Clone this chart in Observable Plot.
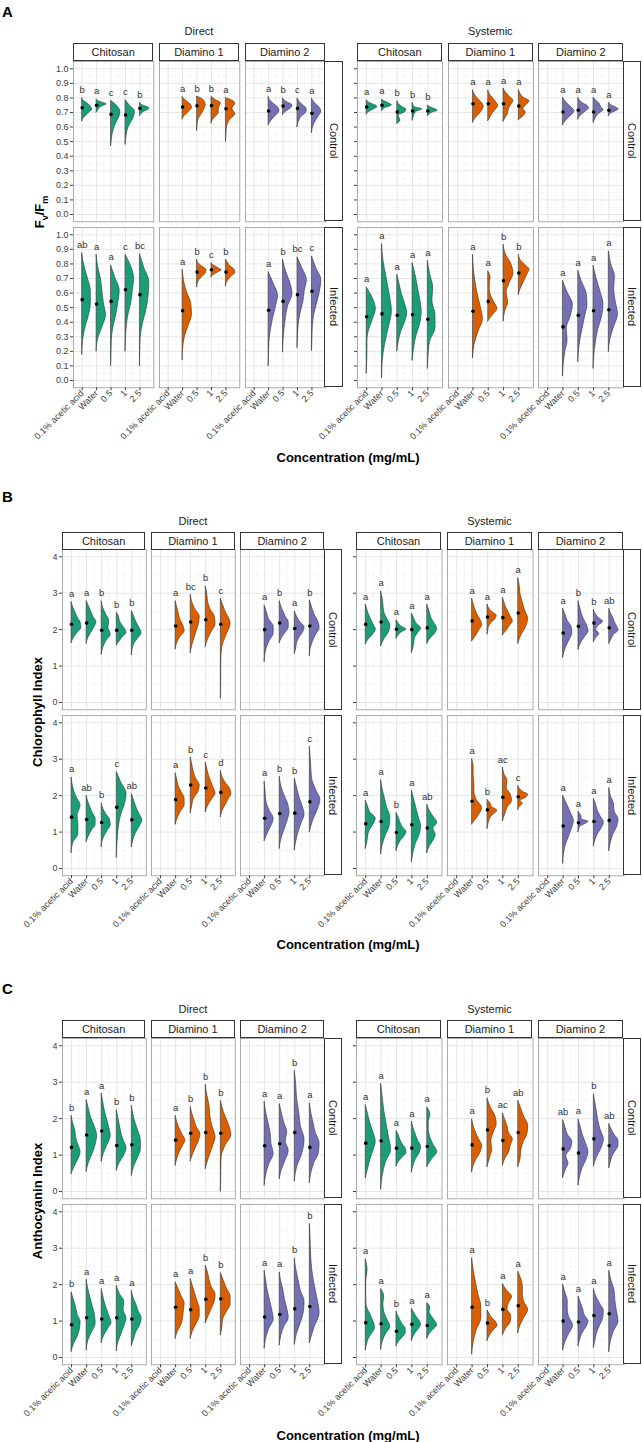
<!DOCTYPE html>
<html><head><meta charset="utf-8">
<script src="https://cdn.jsdelivr.net/npm/d3@7"></script>
<script src="https://cdn.jsdelivr.net/npm/@observablehq/plot@0.6"></script>
<style>
body{margin:0;background:#fff;}
#root{position:relative;width:642px;height:1442px;overflow:hidden;background:#fff;font-family:'Liberation Sans',Arial,Helvetica,sans-serif;color:#1a1a1a}
.strip{position:absolute;box-sizing:border-box;border:1px solid #333;background:#fff;font-size:11px;display:flex;align-items:center;justify-content:center;white-space:nowrap}
.vstrip{writing-mode:vertical-rl}
.lbl{position:absolute;white-space:nowrap}
</style></head>
<body><div id="root"></div>
<script>
const AA = "0.1% acetic acid";
const categories = [AA, "Water", "0.5", "1", "2.5"];
const treatments = ["Chitosan", "Diamino 1", "Diamino 2"];
const conditions = ["Control", "Infected"];
const applications = ["Direct", "Systemic"];
const palette = ["#1b9e77", "#d95f02", "#7570b3"];
const fvfmTicks = [0, 0.1, 0.2, 0.3, 0.4, 0.5, 0.6, 0.7, 0.8, 0.9, 1.0];
const indexTicks = [0, 1, 2, 3, 4];
const xTitle = "Concentration (mg/mL)";

// [treatment, concentration, min, max, mean, letter, violin half-widths bottom->top (tenths of a category step)]
const fvfmDirectControl = [
 ["Chitosan", AA, 0.64, 0.80, 0.733, "b", [1,3,5,7,6,4,1]],
 ["Chitosan", "Water", 0.70, 0.79, 0.75, "a", [1,1.5,2.5,4.5,7,4,1]],
 ["Chitosan", "0.5", 0.47, 0.78, 0.687, "c", [0.5,1,2,3.5,5.5,6.5,4.5]],
 ["Chitosan", "1", 0.48, 0.785, 0.683, "c", [0.5,1,2,4,6,6.5,3]],
 ["Chitosan", "2.5", 0.676, 0.767, 0.728, "b", [1,2,4,6.5,6,3,1]],
 ["Diamino 1", "Water", 0.653, 0.808, 0.737, "a", [1,3,5,6.5,6,4,1.5]],
 ["Diamino 1", "0.5", 0.575, 0.81, 0.746, "b", [0.3,0.5,1.5,3.5,5,6,5]],
 ["Diamino 1", "1", 0.626, 0.808, 0.747, "b", [1,3,5,5,5.5,6.5,3]],
 ["Diamino 1", "2.5", 0.50, 0.80, 0.726, "a", [0.3,0.5,1,3,6.5,4.5,6.5]],
 ["Diamino 2", "Water", 0.614, 0.808, 0.71, "a", [1.5,3.5,6,7.5,6.5,3.5,1]],
 ["Diamino 2", "0.5", 0.683, 0.797, 0.744, "b", [1,3,5,6.5,6,3,1]],
 ["Diamino 2", "1", 0.60, 0.797, 0.728, "c", [0.5,1.5,3,6,6.5,4,1.5]],
 ["Diamino 2", "2.5", 0.56, 0.795, 0.694, "a", [0.5,1.5,3,5,6.5,5,2]]
];
const fvfmDirectInfected = [
 ["Chitosan", AA, 0.178, 0.874, 0.555, "ab", [0.5,2,4.5,6,6,4,1.5]],
 ["Chitosan", "Water", 0.20, 0.863, 0.525, "a", [1,4,6.5,5,4,3,1]],
 ["Chitosan", "0.5", 0.10, 0.79, 0.543, "a", [0.3,0.5,1.5,3.5,5,6,3]],
 ["Chitosan", "1", 0.20, 0.863, 0.623, "c", [0.3,0.8,2,4,5,6,4]],
 ["Chitosan", "2.5", 0.10, 0.868, 0.589, "bc", [0.2,0.5,2,4.5,6,6.5,3]],
 ["Diamino 1", "Water", 0.14, 0.76, 0.479, "a", [0.3,1.5,4,6.5,6,3,1]],
 ["Diamino 1", "0.5", 0.64, 0.829, 0.744, "b", [0.5,1.5,3.5,6,6.5,3.5,1]],
 ["Diamino 1", "1", 0.708, 0.806, 0.76, "c", [1,3,5,7,5,3,1]],
 ["Diamino 1", "2.5", 0.646, 0.829, 0.744, "b", [0.5,2,4,6.5,6,3,1.5]],
 ["Diamino 2", "Water", 0.10, 0.744, 0.482, "a", [0.3,0.5,1.5,3,5,6.5,3.5]],
 ["Diamino 2", "0.5", 0.194, 0.829, 0.543, "b", [0.3,1,2,3.5,6.5,5,2]],
 ["Diamino 2", "1", 0.224, 0.845, 0.589, "bc", [0.3,0.8,2,4,5,6.5,3.5]],
 ["Diamino 2", "2.5", 0.205, 0.852, 0.612, "c", [0.3,0.6,1.5,3.5,5.5,6.5,3]]
];
const fvfmSystemicControl = [
 ["Chitosan", AA, 0.687, 0.785, 0.737, "a", [1,3,5,7,6,3,1]],
 ["Chitosan", "Water", 0.71, 0.79, 0.749, "a", [1,2,5,6.5,5,3,1]],
 ["Chitosan", "0.5", 0.623, 0.778, 0.703, "b", [2,1.5,1,5,6,3,1]],
 ["Chitosan", "1", 0.646, 0.767, 0.71, "b", [0.5,1,1.5,3,6.5,1.5,0.5]],
 ["Chitosan", "2.5", 0.676, 0.749, 0.71, "b", [1,2,4,6.5,5,3,1]],
 ["Diamino 1", "Water", 0.63, 0.854, 0.76, "a", [1.5,4,6,7,5.5,3,1]],
 ["Diamino 1", "0.5", 0.642, 0.852, 0.76, "a", [1.5,3,5,6.5,5,3,1]],
 ["Diamino 1", "1", 0.637, 0.865, 0.76, "a", [1.5,3,3.5,5,6.5,4,1.5]],
 ["Diamino 1", "2.5", 0.648, 0.854, 0.744, "a", [3,4.5,3,5,7,3,1]],
 ["Diamino 2", "Water", 0.614, 0.801, 0.703, "a", [1.5,3.5,6,7.5,6,3.5,1.5]],
 ["Diamino 2", "0.5", 0.653, 0.801, 0.715, "a", [1,3,5,7,6,3,1]],
 ["Diamino 2", "1", 0.63, 0.801, 0.703, "a", [1,2,4,6.5,5,4,2]],
 ["Diamino 2", "2.5", 0.676, 0.767, 0.715, "a", [1,2.5,5,6.5,5,2.5,1]]
];
const fvfmSystemicInfected = [
 ["Chitosan", AA, 0.048, 0.639, 0.438, "a", [0.3,0.5,0.5,1.5,4,6,4]],
 ["Chitosan", "Water", 0.018, 0.936, 0.457, "a", [0.5,2,4.5,6.5,5,3,1]],
 ["Chitosan", "0.5", 0.20, 0.726, 0.447, "a", [1,2.5,5,6.5,5,3,1.5]],
 ["Chitosan", "1", 0.137, 0.806, 0.452, "a", [1,2.5,5,6,5,3.5,2]],
 ["Chitosan", "2.5", 0.082, 0.822, 0.42, "a", [0.5,1.5,5,5,3,3.5,1.5]],
 ["Diamino 1", "Water", 0.155, 0.863, 0.475, "a", [1,3.5,6.5,5,3,1.5,0.5]],
 ["Diamino 1", "0.5", 0.406, 0.749, 0.543, "a", [3,6,4,2,1,1,1.5]],
 ["Diamino 1", "1", 0.406, 0.932, 0.685, "b", [1,3,2,4,6.5,5,1.5]],
 ["Diamino 1", "2.5", 0.589, 0.863, 0.737, "b", [1,2.5,4,5.5,7,4,1]],
 ["Diamino 2", "Water", 0.03, 0.685, 0.368, "a", [0.5,1.5,3,2.5,5,6.5,3]],
 ["Diamino 2", "0.5", 0.128, 0.753, 0.447, "a", [0.5,1.5,3,4.5,6,5.5,2.5]],
 ["Diamino 2", "1", 0.082, 0.788, 0.479, "a", [0.5,1.5,3,5.5,6.5,4.5,2]],
 ["Diamino 2", "2.5", 0.196, 0.886, 0.486, "a", [1,3.5,6,4.5,3.5,4,1.5]]
];
const chlDirectControl = [
 ["Chitosan", AA, 1.63, 2.76, 2.146, "a", [1.5,4,6.5,6,4,2.5,1]],
 ["Chitosan", "Water", 1.616, 2.785, 2.18, "a", [1,3,5,6.5,4.5,3,1.5]],
 ["Chitosan", "0.5", 1.315, 2.78, 1.98, "b", [1,3,6,4.5,5,3,1]],
 ["Chitosan", "1", 1.57, 2.466, 1.98, "b", [2,4,6.5,5.5,3.5,2,1.5]],
 ["Chitosan", "2.5", 1.297, 2.51, 1.98, "b", [0.5,1.5,4,6.5,5,3,1.5]],
 ["Diamino 1", "Water", 1.46, 2.785, 2.10, "a", [1,3,6,5,3,2,1]],
 ["Diamino 1", "0.5", 1.36, 2.96, 2.21, "bc", [1,2.5,4,5.5,6,3,1]],
 ["Diamino 1", "1", 1.525, 3.19, 2.27, "b", [1.5,4,6.5,6,3,1.5,1]],
 ["Diamino 1", "2.5", 0.11, 2.85, 2.146, "c", [0.2,0.2,0.3,0.8,3.5,6.5,3]],
 ["Diamino 2", "Water", 1.114, 2.667, 2.0, "a", [0.5,1.5,3.5,6,6,3,1.5]],
 ["Diamino 2", "0.5", 1.63, 2.785, 2.18, "b", [1.5,4,6,6,4,2.5,1]],
 ["Diamino 2", "1", 1.34, 2.5, 2.03, "a", [1,1.5,3,5.5,6.5,3.5,1.5]],
 ["Diamino 2", "2.5", 1.28, 2.8, 2.10, "b", [0.5,2,4,6.5,5.5,3,1.5]]
];
const chlDirectInfected = [
 ["Chitosan", AA, 0.427, 2.5, 1.41, "a", [1,4.5,4.5,4,6,3,1]],
 ["Chitosan", "Water", 0.727, 2.0, 1.345, "ab", [1.5,3.5,6,6,4,2.5,1]],
 ["Chitosan", "0.5", 0.59, 1.79, 1.264, "b", [0.5,2,4,6,5.5,3,1]],
 ["Chitosan", "1", 0.30, 2.65, 1.68, "c", [0.3,0.8,1.5,3,5.5,6.5,3]],
 ["Chitosan", "2.5", 0.59, 2.045, 1.336, "ab", [1,2.5,5,7,5,3,1.5]],
 ["Diamino 1", "Water", 1.21, 2.62, 1.89, "a", [1.5,3.5,6,6,4,2,1]],
 ["Diamino 1", "0.5", 1.518, 3.045, 2.29, "b", [1,2,5,6,3.5,2,1]],
 ["Diamino 1", "1", 1.545, 2.91, 2.21, "c", [1.5,4,6.5,5,3.5,2,1]],
 ["Diamino 1", "2.5", 1.41, 2.68, 2.09, "d", [1,3,5,7,6,3,1]],
 ["Diamino 2", "Water", 0.755, 2.39, 1.38, "a", [2,4.5,6,3.5,1.5,0.8,0.5]],
 ["Diamino 2", "0.5", 0.545, 2.52, 1.51, "b", [1,3,5,6.5,5.5,3,1]],
 ["Diamino 2", "1", 0.5, 2.47, 1.52, "b", [1,2.5,4.5,6.5,5,3,1.5]],
 ["Diamino 2", "2.5", 1.0, 3.34, 1.83, "c", [2,5,7,4,1.5,1,0.5]]
];
const chlSystemicControl = [
 ["Chitosan", AA, 1.6, 2.69, 2.146, "a", [2,5,6.5,5,3.5,2,1]],
 ["Chitosan", "Water", 1.543, 3.05, 2.21, "a", [2,5,6,4,2,1.5,1]],
 ["Chitosan", "0.5", 1.753, 2.256, 2.01, "a", [1,2,4,6.5,4,2,1]],
 ["Chitosan", "1", 1.36, 2.44, 2.0, "a", [1,1.5,2,4,6,3,1.5]],
 ["Chitosan", "2.5", 1.616, 2.69, 2.05, "a", [2,5,6.5,5,3,2,1]],
 ["Diamino 1", "Water", 1.68, 2.85, 2.24, "a", [2.5,4.5,6.5,5.5,3.5,2,1]],
 ["Diamino 1", "0.5", 1.872, 2.69, 2.347, "a", [0.5,1,2.5,5,6,3,1]],
 ["Diamino 1", "1", 1.845, 2.877, 2.33, "a", [2.5,4.5,6.5,5,3.5,2,1]],
 ["Diamino 1", "2.5", 1.616, 3.415, 2.457, "a", [2,5,6.5,4.5,3,1.5,1]],
 ["Diamino 2", "Water", 1.233, 2.575, 1.91, "a", [1,2.5,4.5,6,5.5,3,1.5]],
 ["Diamino 2", "0.5", 1.452, 2.785, 2.09, "b", [1.5,4,6.5,5.5,3.5,2,1]],
 ["Diamino 2", "1", 1.662, 2.548, 2.18, "b", [1.5,3.5,1.5,3,6,3,1]],
 ["Diamino 2", "2.5", 1.616, 2.575, 2.05, "ab", [1.5,3,6,5,3.5,2.5,1]]
];
const chlSystemicInfected = [
 ["Chitosan", AA, 0.545, 1.864, 1.227, "a", [1,1.5,2.5,5,6.5,3,1.5]],
 ["Chitosan", "Water", 0.39, 2.427, 1.29, "a", [1,3,5.5,6,4,2.5,1]],
 ["Chitosan", "0.5", 0.482, 1.527, 0.99, "b", [1,2.5,5,6.5,4,2.5,1.5]],
 ["Chitosan", "1", 0.18, 2.136, 1.2, "a", [1,2.5,5,6,4.5,3,1.5]],
 ["Chitosan", "2.5", 0.427, 1.755, 1.11, "ab", [1.5,4,5.5,4,6.5,4,1.5]],
 ["Diamino 1", "Water", 1.21, 3.0, 1.845, "a", [4,6.5,3,1.5,1.5,1,1]],
 ["Diamino 1", "0.5", 1.09, 1.882, 1.61, "b", [0.5,1,2,4,6.5,3,2]],
 ["Diamino 1", "1", 1.3, 2.77, 1.955, "ac", [1.5,3,6,5,2.5,3,1]],
 ["Diamino 1", "2.5", 1.61, 2.27, 1.97, "c", [1,3,1.5,5,6.5,3,1]],
 ["Diamino 2", "Water", 0.136, 2.0, 1.164, "a", [0.5,1.5,3.5,5.5,7,5,2.5]],
 ["Diamino 2", "0.5", 1.0, 1.564, 1.255, "a", [0.5,1,4,6.5,2,2,1]],
 ["Diamino 2", "1", 0.61, 1.91, 1.29, "a", [1,2.5,5,6.5,4.5,2.5,1.5]],
 ["Diamino 2", "2.5", 0.482, 2.21, 1.32, "a", [1,2.5,5,6,3.5,3,1]]
];
const anthDirectControl = [
 ["Chitosan", AA, 0.48, 2.08, 1.21, "b", [2,4.5,6,4.5,3,2.5,1]],
 ["Chitosan", "Water", 0.545, 2.51, 1.55, "a", [1.5,4,6,7,5.5,3,1.5]],
 ["Chitosan", "0.5", 0.82, 2.69, 1.66, "a", [1.5,4,6,5,3.5,2,1]],
 ["Chitosan", "1", 0.58, 2.236, 1.26, "b", [2,5,6.5,4.5,3,2,1]],
 ["Chitosan", "2.5", 0.436, 2.355, 1.28, "b", [1.5,4,6,6,4.5,2.5,1]],
 ["Diamino 1", "Water", 0.71, 2.08, 1.41, "a", [1,2.5,4.5,6.5,4.5,2.5,1]],
 ["Diamino 1", "0.5", 0.827, 2.327, 1.6, "b", [1.5,3.5,5.5,6.5,4,2.5,1]],
 ["Diamino 1", "1", 0.62, 2.936, 1.62, "b", [2,4.5,6.5,4.5,3,2.5,1]],
 ["Diamino 1", "2.5", 0.0, 2.49, 1.6, "b", [0.2,0.3,0.5,3,7,5,2]],
 ["Diamino 2", "Water", 0.164, 2.464, 1.255, "a", [1,3,6,4.5,4,2.5,1]],
 ["Diamino 2", "0.5", 0.345, 2.4, 1.31, "a", [1.5,4,6,4,5,3,1.5]],
 ["Diamino 2", "1", 0.28, 3.31, 1.62, "b", [1.5,5,6.5,4,3,1.5,1]],
 ["Diamino 2", "2.5", 0.236, 2.418, 1.21, "a", [1,3,6,6.5,4,2.5,1]]
];
const anthDirectInfected = [
 ["Chitosan", AA, 0.155, 1.79, 0.9, "b", [1.5,4,5.5,6,4,3,1.5]],
 ["Chitosan", "Water", 0.2, 2.136, 1.09, "a", [1,3.5,6,5.5,4,2.5,1]],
 ["Chitosan", "0.5", 0.4, 1.88, 1.055, "a", [1.5,4,6.5,5,3.5,2,1]],
 ["Chitosan", "1", 0.18, 1.97, 1.09, "a", [1,3,5,6.5,4.5,5,2]],
 ["Chitosan", "2.5", 0.318, 1.836, 1.055, "a", [1.5,3,5.5,6.5,4.5,3,1]],
 ["Diamino 1", "Water", 0.518, 2.064, 1.38, "a", [1.5,4,5,5.5,6,4,2]],
 ["Diamino 1", "0.5", 0.518, 2.155, 1.31, "a", [1.5,4,6,6,4.5,3,1.5]],
 ["Diamino 1", "1", 0.945, 2.52, 1.6, "b", [2,4,6,6.5,4,2.5,1.5]],
 ["Diamino 1", "2.5", 0.61, 2.32, 1.61, "b", [1,1.5,4,6.5,6.5,4,2]],
 ["Diamino 2", "Water", 0.245, 2.38, 1.11, "a", [1,3,6,5,3.5,2,1]],
 ["Diamino 2", "0.5", 0.336, 2.336, 1.18, "a", [1,3,6,5,3.5,2.5,1]],
 ["Diamino 2", "1", 0.355, 2.72, 1.336, "b", [1.5,4,6,6.5,4,2.5,1]],
 ["Diamino 2", "2.5", 0.4, 3.67, 1.4, "b", [3,6.5,5,3,1.5,0.8,0.5]]
];
const anthSystemicControl = [
 ["Chitosan", AA, 0.364, 2.373, 1.327, "a", [1.5,3,5,6.5,5,3,1.5]],
 ["Chitosan", "Water", 0.055, 2.96, 1.39, "a", [1,3,6.5,5,3.5,2,1]],
 ["Chitosan", "0.5", 0.69, 1.66, 1.19, "a", [1.5,4,6.5,6,4,2.5,1.5]],
 ["Chitosan", "1", 0.527, 1.92, 1.19, "a", [1,2.5,5,6,4,2.5,1]],
 ["Chitosan", "2.5", 0.673, 2.31, 1.236, "a", [3,6.5,4,2,1,1,2]],
 ["Diamino 1", "Water", 0.527, 1.98, 1.28, "a", [1,3,5.5,6.5,4.5,2.5,1]],
 ["Diamino 1", "0.5", 0.673, 2.555, 1.69, "b", [1.5,3,2.5,4,6,5,2]],
 ["Diamino 1", "1", 0.71, 2.145, 1.4, "ac", [1.5,4,5,6.5,4,3,1.5]],
 ["Diamino 1", "2.5", 0.673, 2.49, 1.62, "ab", [1.5,2,3.5,6,6.5,4,2]],
 ["Diamino 2", "Water", 0.373, 1.96, 1.17, "ab", [1.5,3.5,2,5,6,3,1.5]],
 ["Diamino 2", "0.5", 0.173, 1.98, 1.055, "a", [1,2.5,5,6.5,5,3,1.5]],
 ["Diamino 2", "1", 0.69, 2.67, 1.445, "b", [2,5,6.5,4.5,3,2,1]],
 ["Diamino 2", "2.5", 0.645, 1.855, 1.255, "ab", [1,2,4,6,6,3.5,1.5]]
];
const anthSystemicInfected = [
 ["Chitosan", AA, 0.2, 2.7, 0.955, "a", [2,6,3.5,0.5,0.3,0.3,1.2]],
 ["Chitosan", "Water", 0.218, 1.88, 0.927, "a", [1,3,6,4,2,1.5,2]],
 ["Chitosan", "0.5", 0.31, 1.264, 0.72, "b", [1.5,4,6,6,4,2.5,1]],
 ["Chitosan", "1", 0.455, 1.336, 0.91, "a", [1,2.5,4.5,6,5,3,1.5]],
 ["Chitosan", "2.5", 0.518, 1.49, 0.88, "a", [1.5,4,6.5,5,3,1.5,2]],
 ["Diamino 1", "Water", 0.09, 2.727, 1.38, "a", [1,3,6,6,4,2.5,1]],
 ["Diamino 1", "0.5", 0.455, 1.29, 0.945, "b", [1,2.5,4.5,6.5,5.5,3,1.5]],
 ["Diamino 1", "1", 0.61, 2.02, 1.32, "a", [2,5,5.5,3,4,6,2.5]],
 ["Diamino 1", "2.5", 0.673, 2.355, 1.42, "a", [1.5,4,6.5,4,3,3,2]],
 ["Diamino 2", "Water", 0.2, 2.0, 1.0, "a", [1.5,4,6.5,4,3,3,1.5]],
 ["Diamino 2", "0.5", 0.31, 1.673, 0.973, "a", [1,2.5,5,6.5,4,3,1.5]],
 ["Diamino 2", "1", 0.264, 1.88, 1.155, "a", [1,2,4,6,6.5,4,1.5]],
 ["Diamino 2", "2.5", 0.155, 2.38, 1.2, "a", [1,3,6,5,4,3.5,1.5]]
];

const FONT = "'Liberation Sans', Arial, Helvetica, sans-serif";
const H = 160.3, VGAP = 5.5, HGAP = 5.5, RSTRIP = 18.5;
const panels = [
 {tag: "A", tagY: 3, titleY: 32, stripTop: 42.5, frameTop: 60.7, groups: [[73, 80.3], [357.3, 85]],
  yTitle: "F<sub style='font-size:9px'>v</sub>/F<sub style='font-size:9px'>m</sub>", yTitleX: 41, yTitleY: 212, xTitleY: 457,
  ticks: fvfmTicks, fmt: d3.format(".1f"),
  data: [[fvfmDirectControl, fvfmDirectInfected], [fvfmSystemicControl, fvfmSystemicInfected]]},
 {tag: "B", tagY: 488, titleY: 521.5, stripTop: 531.5, frameTop: 549.3, groups: [[61.7, 83.8], [355.7, 85.5]],
  yTitle: "Chlorophyll Index", yTitleX: 37, yTitleY: 712, xTitleY: 944,
  ticks: indexTicks, fmt: d3.format("d"),
  data: [[chlDirectControl, chlDirectInfected], [chlSystemicControl, chlSystemicInfected]]},
 {tag: "C", tagY: 980, titleY: 1010, stripTop: 1020, frameTop: 1037.7, groups: [[61.7, 83.8], [355.7, 85.5]],
  yTitle: "Anthocyanin Index", yTitleX: 37, yTitleY: 1200.5, xTitleY: 1435,
  ticks: indexTicks, fmt: d3.format("d"),
  data: [[anthDirectControl, anthDirectInfected], [anthSystemicControl, anthSystemicInfected]]}
];

const root = document.getElementById("root");
function addDiv(html, css, cls) {
  const d = document.createElement("div");
  if (cls) d.className = cls;
  d.innerHTML = html;
  d.style.cssText += css;
  root.appendChild(d);
  return d;
}

function drawCell(p, gi, ci, ti) {
  const [x0, w] = p.groups[gi];
  const fx = x0 + ti * (w + HGAP);
  const fy = p.frameTop + ci * (H + VGAP);
  const rows = p.data[gi][ci].filter(r => r[0] === treatments[ti]);
  const t0 = p.ticks[0], t1 = p.ticks[p.ticks.length - 1], span = t1 - t0;
  const minor = p.ticks.slice(1).map((t, i) => (t + p.ticks[i]) / 2);
  const xc = r => categories.indexOf(r[1]) + 1;
  const shape = [];
  rows.forEach((r, k) => {
    const ws = [0, ...r[6], 0];
    const n = ws.length - 1;
    ws.forEach((v, j) => shape.push({k, x: xc(r), y: r[2] + (r[3] - r[2]) * j / n, w: v / 10}));
  });
  const left = ti === 0, bottom = ci === 1;
  const ml = 60, mr = 4, mt = 20, mb = bottom ? 75 : 2;
  const marks = [
    Plot.gridY({ticks: minor, stroke: "#f1f1f1", strokeOpacity: 1, strokeWidth: 0.6}),
    Plot.gridX({ticks: [1.5, 2.5, 3.5, 4.5, 5.5], stroke: "#f1f1f1", strokeOpacity: 1, strokeWidth: 0.6}),
    Plot.gridY({ticks: p.ticks, stroke: "#e6e6e6", strokeOpacity: 1, strokeWidth: 1}),
    Plot.gridX({ticks: [1, 2, 3, 4, 5], stroke: "#e6e6e6", strokeOpacity: 1, strokeWidth: 1}),
    Plot.areaX(shape, {y: "y", x1: "x", x2: d => d.x + d.w, z: "k", fill: palette[ti], stroke: "#333", strokeWidth: 0.6, curve: "monotone-y"}),
    Plot.dot(rows, {x: xc, y: r => r[4], r: 1.8, fill: "black"}),
    Plot.text(rows, {x: xc, y: r => r[3], text: r => r[5], dy: -8, fontSize: 9.5, fill: "#333"}),
    Plot.frame({stroke: "#a3a3a3", strokeWidth: 0.9})
  ];
  if (left) marks.push(Plot.axisY({ticks: p.ticks, tickFormat: gi === 0 ? p.fmt : () => "", tickSize: 3, tickPadding: 2, fontSize: 9, color: "#3d3d3d", label: null}));
  if (bottom) marks.push(Plot.axisX({ticks: [1, 2, 3, 4, 5], tickFormat: i => categories[i - 1], tickRotate: -45, tickSize: 3, tickPadding: 1, fontSize: 9, color: "#3d3d3d", label: null}));
  const svg = Plot.plot({
    width: w + ml + mr, height: H + mt + mb,
    marginLeft: ml, marginRight: mr, marginTop: mt, marginBottom: mb,
    x: {domain: [0.4, 5.96], axis: null},
    y: {domain: [t0 - 0.05 * span, t1 + 0.05 * span], axis: null},
    style: {background: "transparent", overflow: "visible", fontFamily: FONT, maxWidth: "none"},
    marks
  });
  svg.style.position = "absolute";
  svg.style.left = (fx - ml) + "px";
  svg.style.top = (fy - mt) + "px";
  root.appendChild(svg);
}

panels.forEach(p => {
  addDiv(p.tag, `left:2px;top:${p.tagY}px;font-size:15px;font-weight:bold;color:#000`, "lbl");
  p.groups.forEach(([x0, w], gi) => {
    const total = 3 * w + 2 * HGAP;
    addDiv(applications[gi], `left:${x0}px;width:${total}px;top:${p.titleY - 7}px;font-size:11px;text-align:center;color:#1a1a1a`, "lbl");
    for (let ci = 0; ci < 2; ci++) for (let ti = 0; ti < 3; ti++) drawCell(p, gi, ci, ti);
    treatments.forEach((t, ti) => {
      addDiv(t, `left:${x0 + ti * (w + HGAP)}px;top:${p.stripTop}px;width:${w}px;height:${p.frameTop - p.stripTop + 0.5}px`, "strip");
    });
    conditions.forEach((c, ci) => {
      addDiv(c, `left:${x0 + total - 0.5}px;top:${p.frameTop + ci * (H + VGAP)}px;width:${RSTRIP}px;height:${H}px`, "strip vstrip");
    });
  });
  addDiv(p.yTitle, `left:${p.yTitleX}px;top:${p.yTitleY}px;font-size:13px;font-weight:bold;color:#000;transform:translate(-50%,-50%) rotate(-90deg)`, "lbl");
  addDiv(xTitle, `left:348px;top:${p.xTitleY}px;font-size:13px;font-weight:bold;color:#000;transform:translate(-50%,-50%)`, "lbl");
});
</script>
</body></html>
